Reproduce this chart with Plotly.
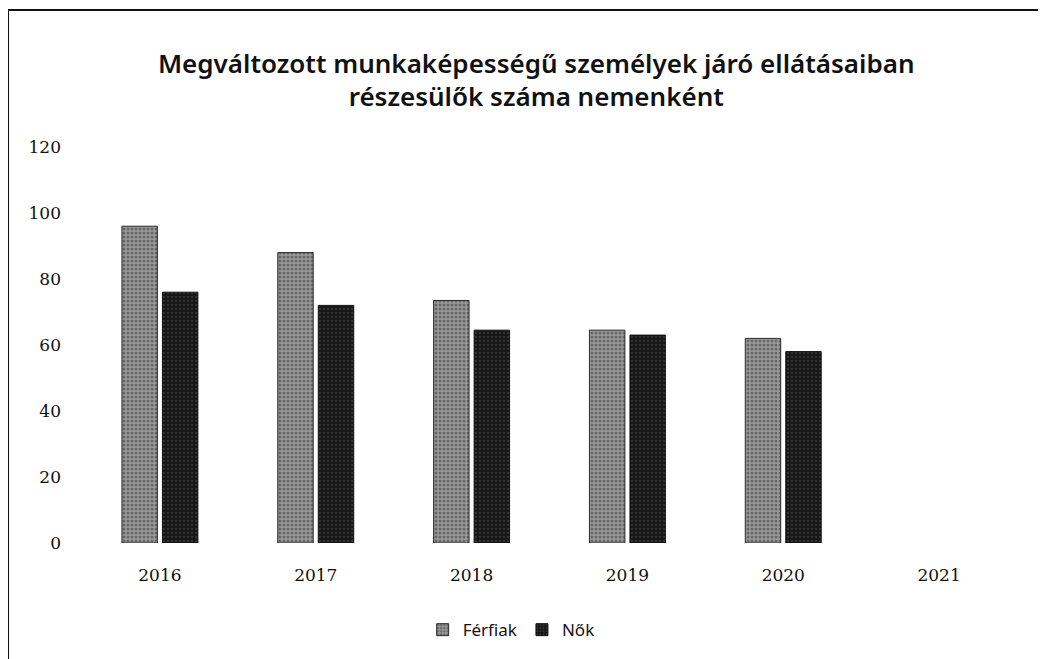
import plotly.graph_objects as go

years = ["2016", "2017", "2018", "2019", "2020", "2021"]
ferfiak = [96, 88, 73.5, 64.5, 62, None]
nok = [76, 72, 64.5, 63, 58, None]
y_ticks = [0, 20, 40, 60, 80, 100, 120]

title_text = ("Megváltozott munkaképességű személyek járó ellátásaiban"
              "<br>részesülők száma nemenként")

fig = go.Figure()
fig.add_trace(go.Bar(
    name="Férfiak", x=years, y=ferfiak,
    marker=dict(color="#8c8c8c", line=dict(color="#2a2a2a", width=1),
                pattern=dict(shape=".", fgcolor="#333333", bgcolor="#9a9a9a",
                             size=4, solidity=0.45)),
))
fig.add_trace(go.Bar(
    name="Nők", x=years, y=nok,
    marker=dict(color="#1e1e1e", line=dict(color="#111111", width=1),
                pattern=dict(shape=".", fgcolor="#555555", bgcolor="#161616",
                             size=4, solidity=0.25)),
))

fig.update_layout(
    width=1046, height=659,
    paper_bgcolor="white", plot_bgcolor="white",
    margin=dict(l=74, r=37, t=139, b=124),
    barmode="group", bargap=0.48, bargroupgap=0.125,
    title=dict(text=title_text, x=0.505, xanchor="center", y=0.902, yanchor="middle",
               font=dict(family="Noto Sans", size=26, color="#111111", weight=600)),
    showlegend=True,
    legend=dict(orientation="h", x=0.459, xanchor="center", y=-0.22, yanchor="middle",
                font=dict(family="Noto Sans", size=17, color="#111111"),
                itemwidth=30, traceorder="normal"),
    xaxis=dict(showgrid=False, showline=False, ticks="", ticklabelstandoff=20,
               tickfont=dict(family="DejaVu Serif", size=17, color="#111111")),
    yaxis=dict(range=[0, 120], tickvals=y_ticks, showgrid=False, showline=False,
               zeroline=False, ticks="", ticklabelstandoff=20,
               tickfont=dict(family="DejaVu Serif", size=17, color="#111111")),
    shapes=[
        dict(type="line", xref="paper", yref="paper", x0=-0.0791, x1=1.05,
             y0=1.346, y1=1.346, line=dict(color="#111111", width=2)),
        dict(type="line", xref="paper", yref="paper", x0=-0.0791, x1=-0.0791,
             y0=1.346, y1=-0.35, line=dict(color="#111111", width=2)),
    ],
)

fig.write_html("out.html")
